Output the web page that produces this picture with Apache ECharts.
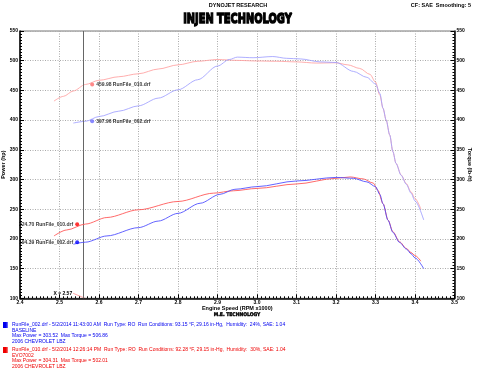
<!DOCTYPE html>
<html>
<head>
<meta charset="utf-8">
<script src="https://cdn.jsdelivr.net/npm/echarts@6/dist/echarts.min.js"></script>
<style>html,body{margin:0;padding:0;background:#fff}#c{width:480px;height:369px}</style>
</head>
<body>
<div id="c"></div>
<script>
// ---- data ----
const xTicks = [2.4, 2.5, 2.6, 2.7, 2.8, 2.9, 3.0, 3.1, 3.2, 3.3, 3.4, 3.5];
const yTicks = [100, 150, 200, 250, 300, 350, 400, 450, 500, 550];

const rpmTorque010 = [2.486, 2.51, 2.535, 2.566, 2.60, 2.65, 2.70, 2.75, 2.80, 2.85, 2.90, 2.95, 3.00, 3.05, 3.10, 3.15, 3.20, 3.23, 3.26, 3.286, 3.30, 3.311, 3.319, 3.327, 3.336, 3.344, 3.352, 3.365, 3.378, 3.39, 3.40, 3.415];
const torque010    = [432, 440, 449, 460, 467, 473, 478, 486, 493, 499, 502, 500.5, 499.5, 499, 498, 496, 496.5, 493, 487, 477, 464, 442, 420, 400, 375, 347, 327, 307.5, 293, 279, 268, 250];

const rpmTorque002 = [2.535, 2.566, 2.60, 2.65, 2.70, 2.75, 2.80, 2.85, 2.90, 2.93, 2.95, 2.99, 3.04, 3.075, 3.11, 3.16, 3.20, 3.244, 3.278, 3.30, 3.311, 3.319, 3.327, 3.336, 3.344, 3.352, 3.365, 3.378, 3.39, 3.40, 3.422];
const torque002    = [395, 398, 406, 415, 424, 437, 451, 468, 491, 502, 506, 505, 507, 504, 503, 498, 497, 482, 472, 461, 445, 420, 400, 375, 347, 327, 307, 292, 277, 264, 232];

const rpmPower010 = [2.486, 2.518, 2.566, 2.62, 2.70, 2.80, 2.89, 2.94, 3.00, 3.10, 3.20, 3.236, 3.269, 3.294, 3.306, 3.319, 3.332, 3.344, 3.361, 3.378, 3.39, 3.40, 3.415];
const power010    = [205, 215, 225, 236, 249, 263, 277, 281, 285, 292.5, 302, 304.3, 301, 294, 282, 259.5, 231.5, 212, 195, 184, 177, 172, 162.5];

const rpmPower002 = [2.535, 2.566, 2.62, 2.70, 2.75, 2.80, 2.856, 2.906, 2.944, 3.00, 3.10, 3.20, 3.244, 3.278, 3.30, 3.311, 3.319, 3.332, 3.344, 3.361, 3.378, 3.39, 3.40, 3.422];
const power002    = [191, 194.5, 205, 219, 230, 243, 260, 275, 283.5, 288, 297.5, 303.5, 302, 296, 288, 275, 259, 231, 211, 194, 183, 175, 168, 150];

const cursorRpm = 2.565;
const cursorLabel = 'X = 2.57';
const cursorTorque010 = 459.98;
const cursorTorque002 = 397.96;
const cursorPower010 = 224.70;
const cursorPower002 = 194.39;

const run002Lines = [
  'RunFile_002.drf - 5/2/2014 11:43:00 AM  Run Type: RO  Run Conditions: 93.15 °F, 29.16 in-Hg,  Humidity:  24%, SAE: 1.04',
  'BASELINE',
  'Max Power = 303.52  Max Torque = 506.86',
  '2006 CHEVROLET LBZ'
];
const run010Lines = [
  'RunFile_010.drf - 5/2/2014 12:26:14 PM  Run Type: RO  Run Conditions: 92.28 °F, 29.15 in-Hg,  Humidity:  30%, SAE: 1.04',
  'EVO7002',
  'Max Power = 304.31  Max Torque = 502.01',
  '2006 CHEVROLET LBZ'
];

// ---- chart ----
const zip = (xs, ys) => xs.map((x, i) => [x, ys[i]]);
const FONT = 'Liberation Sans';
const tickLbl = {fontSize: 5, fontWeight: 'bold', color: '#000', fontFamily: FONT};

const chart = echarts.init(document.getElementById('c'), null, {renderer: 'canvas'});

function lineSeries(name, xs, ys, color, z) {
  return {
    name, type: 'line', data: zip(xs, ys), showSymbol: false, smooth: 0.3, smoothMonotone: 'x',
    lineStyle: {color, width: 1, opacity: 0.85}, itemStyle: {color}, z, silent: true
  };
}
function dotSeries(val, color, side, name) {
  return {
    type: 'scatter', data: [[cursorRpm, val]], symbolSize: 4,
    symbolOffset: [side === 'right' ? 7 : -8, 0],
    itemStyle: {color}, z: 10, silent: true,
    label: {show: true, position: side, distance: 2, formatter: val.toFixed(2) + ' ' + name,
      fontSize: 5, fontWeight: 'bold', color: '#000', fontFamily: FONT}
  };
}

const yAxisBase = (pos, name) => ({
  type: 'value', position: pos, min: yTicks[0], max: yTicks[yTicks.length - 1], interval: 50,
  axisLine: {show: true, lineStyle: {color: '#000', width: 1.5}},
  axisTick: {show: true, inside: true, length: 4, lineStyle: {color: '#000'}},
  minorTick: {show: true, splitNumber: 10, length: 2, lineStyle: {color: '#000'}},
  axisLabel: Object.assign({margin: 2}, tickLbl),
  splitLine: {show: pos === 'left', lineStyle: {type: [1, 1.5], color: '#aaa'}},
  name, nameLocation: 'middle', nameMoveOverlap: false,
  nameGap: pos === 'left' ? 14 : 12.5, nameRotate: pos === 'left' ? 90 : -90,
  nameTextStyle: {fontSize: 5.5, fontWeight: 'bold', color: '#000', fontFamily: FONT}
});

const option = {
  animation: false,
  backgroundColor: '#fff',
  grid: {left: 20, right: 25.5, top: 31, bottom: 70.7, containLabel: false, outerBoundsMode: 'none',
    show: true, borderColor: '#777', borderWidth: 1},
  xAxis: {
    type: 'value', min: xTicks[0], max: xTicks[xTicks.length - 1], interval: 0.1,
    axisLine: {show: true, onZero: false, lineStyle: {color: '#000', width: 1.5}},
    axisTick: {show: true, inside: true, length: 4, lineStyle: {color: '#000'}},
    minorTick: {show: true, splitNumber: 10, length: 2, lineStyle: {color: '#000'}},
    axisLabel: Object.assign({margin: 1.5, formatter: v => v.toFixed(1)}, tickLbl),
    splitLine: {show: true, lineStyle: {type: [1, 1.5], color: '#aaa'}},
    name: 'Engine Speed (RPM x1000)', nameLocation: 'middle', nameGap: 7, nameMoveOverlap: false,
    nameTextStyle: {fontSize: 5.5, fontWeight: 'bold', color: '#000', fontFamily: FONT}
  },
  yAxis: [yAxisBase('left', 'Power (hp)'), yAxisBase('right', 'Torque (lb-ft)')],
  series: [
    Object.assign(lineSeries('RunFile_010.drf torque', rpmTorque010, torque010, '#ffa0a0', 3), {
      markLine: {silent: true, symbol: 'none', label: {show: false},
        lineStyle: {color: '#666', type: 'solid', width: 1}, data: [{xAxis: cursorRpm}]}
    }),
    lineSeries('RunFile_002.drf torque', rpmTorque002, torque002, '#a0a0ff', 4),
    lineSeries('RunFile_010.drf power', rpmPower010, power010, '#ff5050', 5),
    lineSeries('RunFile_002.drf power', rpmPower002, power002, '#4848ff', 6),
    dotSeries(cursorTorque010, '#ff6a6a', 'right', 'RunFile_010.drf'),
    dotSeries(cursorTorque002, '#6a6aff', 'right', 'RunFile_002.drf'),
    dotSeries(cursorPower010, '#ff0000', 'left', 'RunFile_010.drf'),
    dotSeries(cursorPower002, '#0000ff', 'left', 'RunFile_002.drf')
  ]
};
chart.setOption(option);

// positions for overlay texts
const base = chart.convertToPixel({xAxisIndex: 0, yAxisIndex: 0}, [cursorRpm, yTicks[0]]);

function legendBlock(top, color, light, lines) {
  return [
    {type: 'rect', left: 3, top: top, shape: {width: 5, height: 6},
      style: {fill: new echarts.graphic.LinearGradient(0, 0, 1, 0, [{offset: 0, color: color}, {offset: 0.6, color: color}, {offset: 1, color: light}])}},
    {type: 'text', left: 12, top: top - 0.5,
      style: {text: lines.join('\n'), fontSize: 5, lineHeight: 5.8, fill: color, fontFamily: FONT}}
  ];
}

chart.setOption({
  graphic: [
    {type: 'text', x: 238, y: 2.5, style: {text: 'DYNOJET RESEARCH', align: 'center', fontSize: 5.5, fontWeight: 'bold', fill: '#000', fontFamily: FONT}},
    {type: 'text', x: 471, y: 2.5, style: {text: 'CF: SAE  Smoothing: 5', align: 'right', fontSize: 5.5, fontWeight: 'bold', fill: '#000', fontFamily: FONT}},
    {type: 'text', x: 237.5, y: 13, scaleX: 0.82, scaleY: 1.15, originX: 0, originY: 0,
      style: {text: 'INJEN TECHNOLOGY', align: 'center', fontSize: 12, fontWeight: 'bold', fill: '#000', stroke: '#000', lineWidth: 1.2, fontFamily: 'DejaVu Sans'}},
    {type: 'text', x: 237, y: 312.5, style: {text: 'M.E. TECHNOLOGY', align: 'center', fontSize: 5, fontWeight: 'bold', fill: '#000', stroke: '#000', lineWidth: 0.4, fontFamily: 'DejaVu Sans Condensed'}},
    {type: 'text', x: base[0] - 13, y: base[1] - 7.5, style: {text: cursorLabel, align: 'right', fontSize: 5, fontWeight: 'bold', fill: '#000', fontFamily: FONT}},
    {type: 'line', shape: {x1: base[0] - 12, y1: base[1] - 5, x2: base[0], y2: base[1]}, style: {stroke: '#ff8080', lineWidth: 0.7}},
    ...legendBlock(322, '#0000ee', '#8080ff', run002Lines),
    ...legendBlock(347, '#ee0000', '#ff8080', run010Lines)
  ]
});
</script>
</body>
</html>
